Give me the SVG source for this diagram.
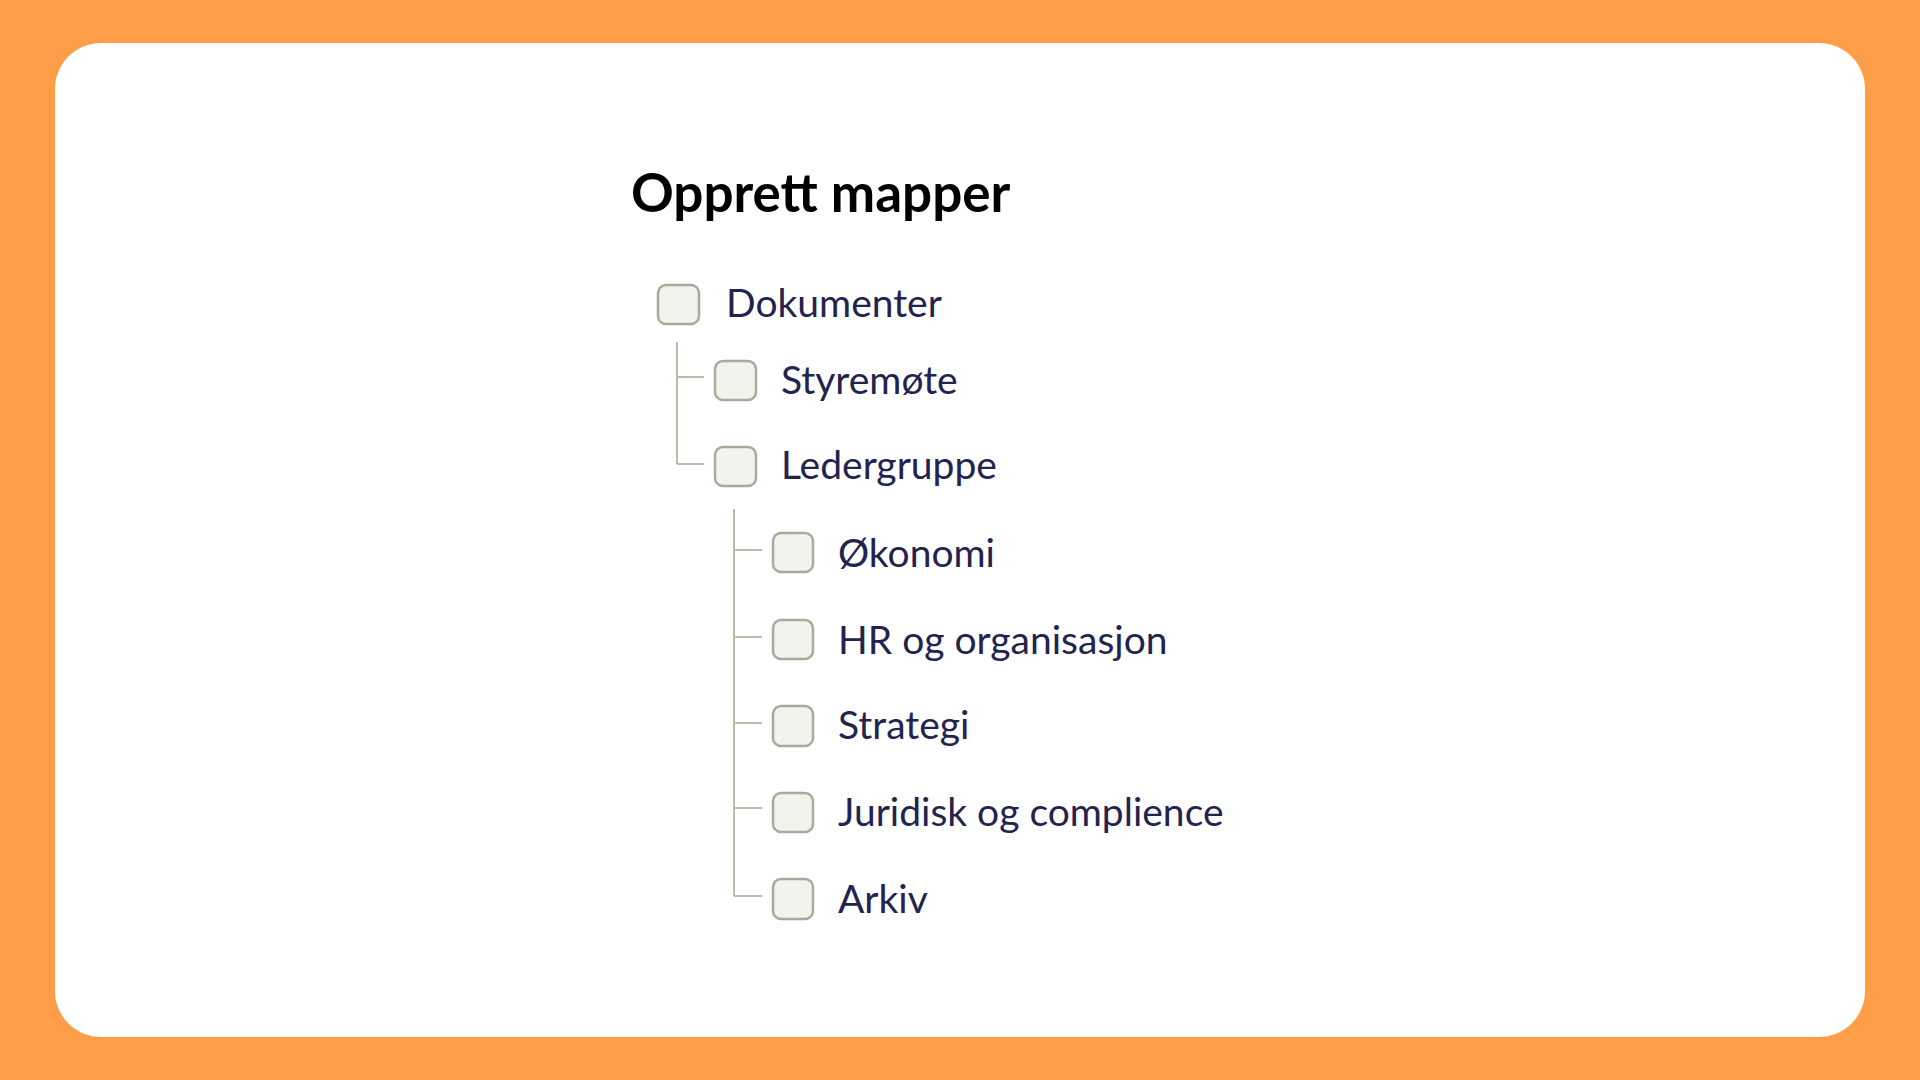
<svg xmlns="http://www.w3.org/2000/svg" width="1920" height="1080" viewBox="0 0 1920 1080">
<style>
.bg{fill:#FE9E48}
.card{fill:#FFFFFF}
.title{font-family:Lato,"Liberation Sans",sans-serif;font-weight:bold;font-size:53px;fill:#000000}
.lbl{font-family:Lato,"Liberation Sans",sans-serif;font-size:39px;fill:#23234F}
.cb{fill:#F3F3EE;stroke:#A9A99C;stroke-width:2.5}
.ln{stroke:#BEBBAA;stroke-width:2;fill:none}
</style>
<rect class="bg" x="0" y="0" width="1920" height="1080"/>
<rect class="card" x="55" y="43" width="1810" height="994" rx="46" ry="46"/>
<text class="title" x="631" y="212">Opprett mapper</text>
<g id="connectors">
<path class="ln" d="M677 342 V464 M677 377 H704 M677 464 H704"/>
<path class="ln" d="M734 509 V896 M734 550 H762 M734 637 H762 M734 723 H762 M734 808 H762 M734 896 H762"/>
</g>
<g id="dokumenter"><rect class="cb" x="658" y="285" width="41" height="39" rx="8"/><text class="lbl" x="726" y="317">Dokumenter</text></g>
<g id="styremote"><rect class="cb" x="715" y="361" width="41" height="39" rx="8"/><text class="lbl" x="781" y="394">Styremøte</text></g>
<g id="ledergruppe"><rect class="cb" x="715" y="447" width="41" height="39" rx="8"/><text class="lbl" x="781" y="479">Ledergruppe</text></g>
<g id="okonomi"><rect class="cb" x="773" y="533" width="40" height="39" rx="8"/><text class="lbl" x="838" y="567">Økonomi</text></g>
<g id="hr"><rect class="cb" x="773" y="620" width="40" height="39" rx="8"/><text class="lbl" x="838" y="654">HR og organisasjon</text></g>
<g id="strategi"><rect class="cb" x="773" y="706" width="40" height="40" rx="8"/><text class="lbl" x="838" y="739">Strategi</text></g>
<g id="juridisk"><rect class="cb" x="773" y="793" width="40" height="39" rx="8"/><text class="lbl" x="838" y="826">Juridisk og complience</text></g>
<g id="arkiv"><rect class="cb" x="773" y="879" width="40" height="40" rx="8"/><text class="lbl" x="838" y="913">Arkiv</text></g>
</svg>
